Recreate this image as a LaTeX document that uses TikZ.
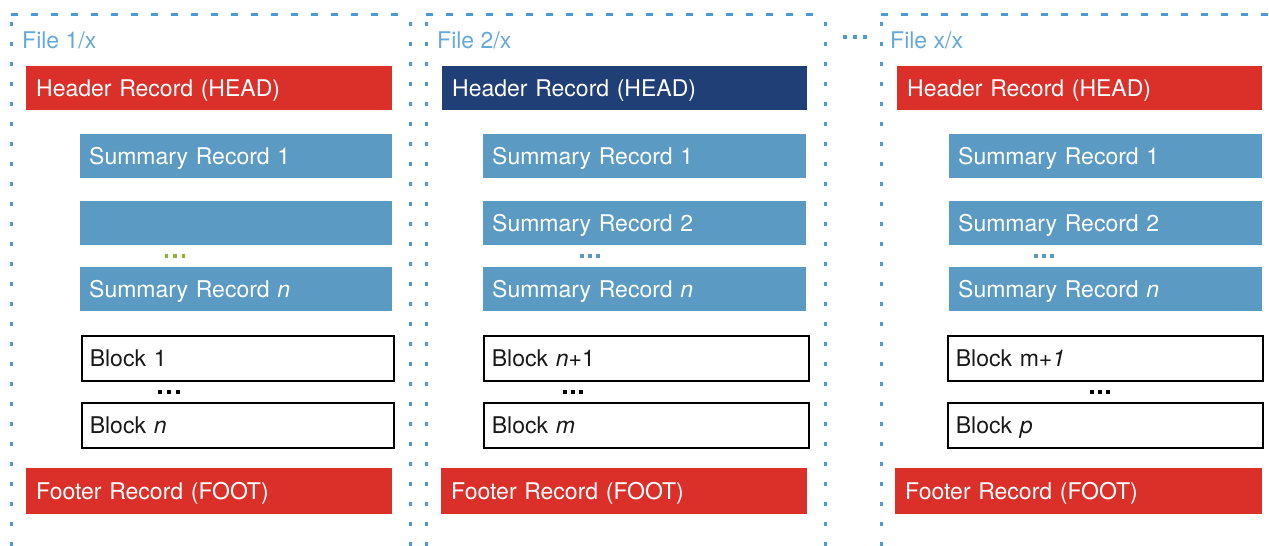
\documentclass[tikz,border=0pt]{standalone}
\usepackage{fontspec}
\setmainfont{TeX Gyre Heros}
\definecolor{hdred}{RGB}{218,48,41}
\definecolor{hdblue}{RGB}{31,63,118}
\definecolor{sumblue}{RGB}{91,155,195}
\definecolor{fileblue}{RGB}{74,154,214}
\definecolor{dotgreen}{RGB}{138,181,58}
\newcommand\recbox[8]{% name, style, pad, x1, y1, x2, y2, text
  \pgfmathsetmacro\bw{#6-#4}\pgfmathsetmacro\bh{#7-#5}\pgfmathsetmacro\tw{#6-#4-2*#3}%
  \node[#2, inner xsep=#3pt, anchor=north west, minimum width=\bw pt, minimum height=\bh pt, text width=\tw pt] (#1) at (#4,#5) {#8};}
\newcommand\dotrow[5]{% name, colour, x, y, spacing
  \foreach \k in {-1,0,1}{\fill[#2] ({#3+\k*#5-1.8},{#4-1.8}) rectangle ({#3+\k*#5+1.8},{#4+1.8});}
  \coordinate (#1) at (#3,#4);}
\tikzset{
  base/.style={rectangle, inner ysep=0pt, align=left,
    text height=16.5pt, text depth=0pt,
    font=\fontsize{23}{27}\selectfont},
  redbox/.style={base, fill=hdred, text=white},
  navybox/.style={base, fill=hdblue, text=white},
  sumbox/.style={base, fill=sumblue, text=white},
  blockbox/.style={base, fill=white, draw=black, line width=1.6pt, text=black!90},
  filelabel/.style={anchor=base west, text=fileblue!85!white, inner sep=0pt,
    font=\fontsize{23}{27}\selectfont},
  hborder/.style={draw=fileblue, line width=3pt, dash pattern=on 7pt off 13pt},
  vborder/.style={draw=fileblue, line width=3pt, dash pattern=on 4pt off 16pt},
}
\begin{document}
\begin{tikzpicture}[x=1pt,y=-1pt]
\useasboundingbox (0,0) rectangle (1269,546);
% borders
\draw[hborder] (11,14) -- (408,14);
\draw[vborder] (11,22) -- (11,560);
\draw[vborder] (410,22) -- (410,560);
\draw[hborder] (426,14) -- (824,14);
\draw[vborder] (426,22) -- (426,560);
\draw[vborder] (825,22) -- (825,560);
\draw[hborder] (881,14) -- (1280,14);
\draw[vborder] (881,22) -- (881,560);
\dotrow{gapdots}{fileblue}{855}{37}{10}
% labels
\node[filelabel] (f1) at (22,48) {File 1/x};
\node[filelabel] (f2) at (437,48) {File 2/x};
\node[filelabel] (f3) at (890,48) {File x/x};
% panel 1
\recbox{h1}{redbox}{10}{26}{66}{392}{110}{Header Record (HEAD)}
\recbox{s11}{sumbox}{9}{80}{134}{392}{178}{Summary Record 1}
\recbox{s12}{sumbox}{9}{80}{201}{392}{245}{}
\dotrow{d1}{dotgreen}{175}{256}{8.5}
\recbox{s1n}{sumbox}{9}{80}{267}{392}{311}{Summary Record \textit{n}}
\recbox{b11}{blockbox}{8}{81}{335}{393}{380}{Block 1}
\dotrow{e1}{black}{169}{392}{9}
\recbox{b1n}{blockbox}{8}{81}{402}{393}{447}{Block \textit{n}}
\recbox{ft1}{redbox}{10}{26}{468}{392}{514}{Footer Record (FOOT)}
% panel 2
\recbox{h2}{navybox}{10}{442}{66}{807}{110}{Header Record (HEAD)}
\recbox{s21}{sumbox}{9}{483}{134}{806}{178}{Summary Record 1}
\recbox{s22}{sumbox}{9}{483}{201}{806}{245}{Summary Record 2}
\dotrow{d2}{sumblue}{590}{256}{8}
\recbox{s2n}{sumbox}{9}{483}{267}{806}{311}{Summary Record \textit{n}}
\recbox{b21}{blockbox}{8}{483}{335}{808}{380}{Block \textit{n}+1}
\dotrow{e2}{black}{573}{392}{8}
\recbox{b2n}{blockbox}{8}{483}{402}{808}{447}{Block \textit{m}}
\recbox{ft2}{redbox}{10}{441}{468}{807}{514}{Footer Record (FOOT)}
% panel 3
\recbox{h3}{redbox}{10}{897}{66}{1262}{110}{Header Record (HEAD)}
\recbox{s31}{sumbox}{9}{949}{134}{1262}{178}{Summary Record 1}
\recbox{s32}{sumbox}{9}{949}{201}{1262}{245}{Summary Record 2}
\dotrow{d3}{sumblue}{1044}{256}{8}
\recbox{s3n}{sumbox}{9}{949}{267}{1262}{311}{Summary Record \textit{n}}
\recbox{b31}{blockbox}{8}{947}{335}{1262}{380}{Block m+\textit{1}}
\dotrow{e3}{black}{1100}{392}{8}
\recbox{b3n}{blockbox}{8}{947}{402}{1262}{447}{Block \textit{p}}
\recbox{ft3}{redbox}{10}{895}{468}{1262}{514}{Footer Record (FOOT)}
\end{tikzpicture}
\end{document}
